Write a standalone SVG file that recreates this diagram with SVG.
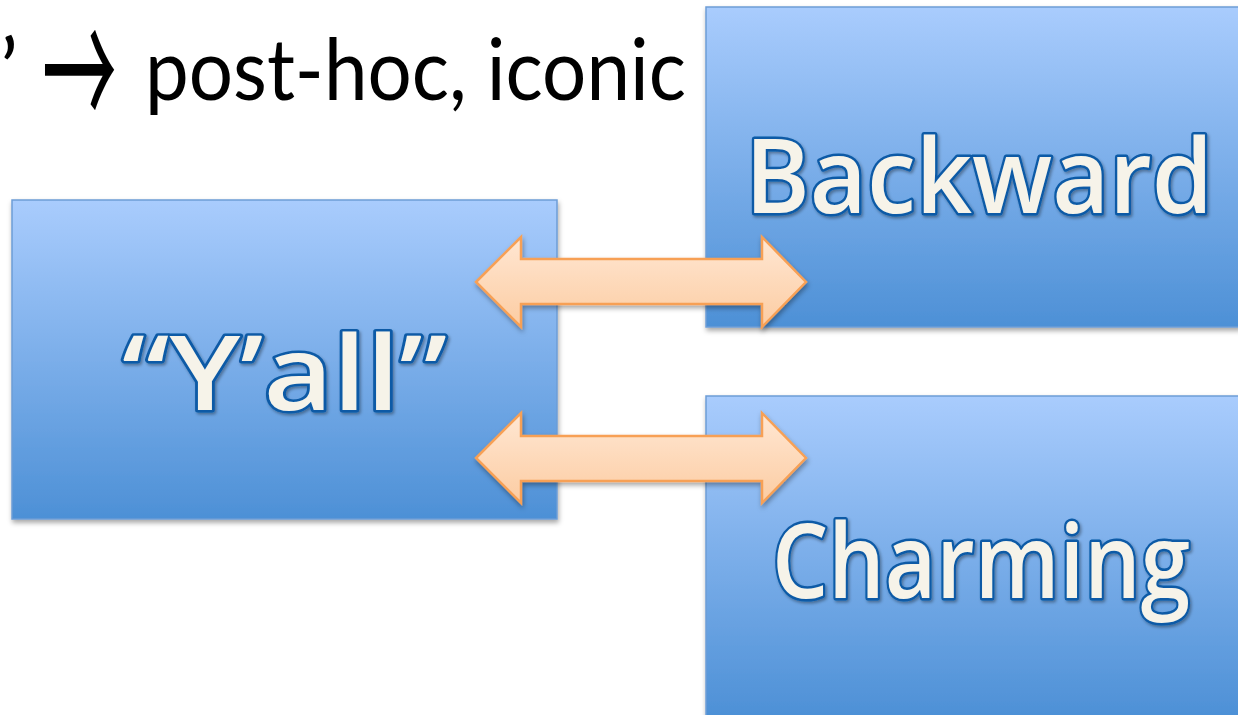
<svg xmlns="http://www.w3.org/2000/svg" width="1238" height="715" viewBox="0 0 1238 715">
<defs>
<linearGradient id="boxGrad" x1="0" y1="0" x2="0" y2="1">
<stop offset="0" stop-color="#A9CCFD"/>
<stop offset="1" stop-color="#4D90D6"/>
</linearGradient>
<linearGradient id="arrGrad" x1="0" y1="0" x2="0" y2="1">
<stop offset="0" stop-color="#FFE7D3"/>
<stop offset="1" stop-color="#FCCCA2"/>
</linearGradient>
<filter id="shadow" x="-10%" y="-10%" width="120%" height="125%">
<feDropShadow dx="1" dy="3" stdDeviation="2.5" flood-color="#000" flood-opacity="0.35"/>
</filter>
<filter id="tshadow" x="-10%" y="-20%" width="120%" height="140%">
<feDropShadow dx="1.5" dy="2" stdDeviation="1.5" flood-color="#000" flood-opacity="0.35"/>
</filter>
</defs>
<style>
.box{fill:url(#boxGrad);stroke:#6C9DD6;stroke-width:1.5}
.arrow{fill:url(#arrGrad);stroke:#F7A055;stroke-width:2.5;stroke-linejoin:miter}
.big{font-family:"Open Sans",Lato,"Liberation Sans",sans-serif;font-weight:600;font-size:104px;fill:#F6F3E9;stroke:#0B5AA6;stroke-width:5;paint-order:stroke;stroke-linejoin:round;text-anchor:start}
.title{font-family:Lato,"Open Sans","Liberation Sans",sans-serif;font-size:85px;fill:#000}
</style>
<rect width="1238" height="715" fill="#FFFFFF"/>
<text class="title" x="0" y="100">’</text>
<text transform="translate(42,71) scale(0.85,1.95)" x="0" y="33" font-family="'Noto Sans CJK JP',sans-serif" font-weight="400" font-size="88" fill="#000">→</text>
<text class="title" x="145" y="100" textLength="541" lengthAdjust="spacingAndGlyphs">post-hoc, iconic</text>
<g id="node-backward" filter="url(#shadow)">
<rect class="box" x="706" y="7" width="534" height="320"/>
<text class="big" x="745" y="213" textLength="468" lengthAdjust="spacingAndGlyphs" filter="url(#tshadow)">Backward</text>
</g>
<g id="node-yall" filter="url(#shadow)">
<rect class="box" x="12" y="200" width="545" height="319"/>
<text class="big" x="122" y="410" textLength="325" lengthAdjust="spacingAndGlyphs" filter="url(#tshadow)">“Y’all”</text>
</g>
<g id="node-charming" filter="url(#shadow)">
<rect class="box" x="706" y="396" width="534" height="321"/>
<text class="big" x="772" y="598" textLength="418" lengthAdjust="spacingAndGlyphs" filter="url(#tshadow)">Charming</text>
</g>
<g id="connectors" filter="url(#shadow)">
<polygon class="arrow" points="476,282 521,237 521,259 762,259 762,237 806,282 762,327 762,304 521,304 521,327"/>
<polygon class="arrow" points="476,458 521,413 521,436 762,436 762,413 806,458 762,503 762,481 521,481 521,503"/>
</g>
</svg>
